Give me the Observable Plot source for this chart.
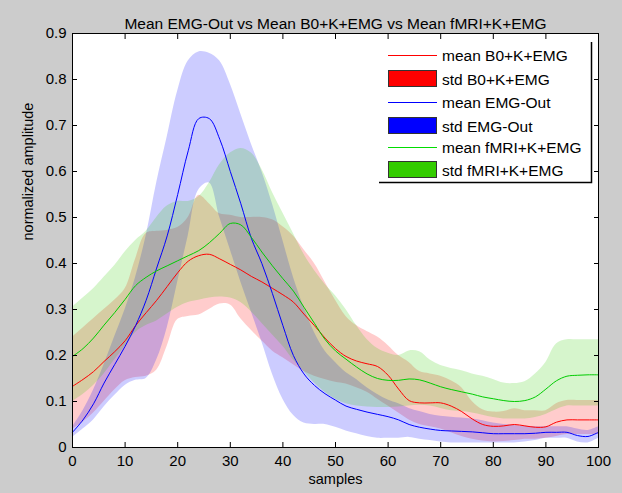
<!DOCTYPE html>
<html>
<head>
<meta charset="utf-8">
<script src="https://cdn.jsdelivr.net/npm/d3@7"></script>
<script src="https://cdn.jsdelivr.net/npm/@observablehq/plot@0.6"></script>
<style>
  html, body { margin: 0; padding: 0; background: #cccccc; }
  #wrap { position: relative; width: 622px; height: 493px; font-family: "Liberation Sans", Arial, sans-serif; }
</style>
</head>
<body>
<div id="wrap"></div>
<script>
// ---- data ----
const samples = [0,2,4,6,8,10,12,14,16,18,20,22,24,26,28,30,32,34,36,38,40,42,44,46,48,50,52,54,56,58,60,62,64,66,68,70,72,74,76,78,80,82,84,86,88,90,92,94,96,98,100];

const meanB0 = [0.133,0.148,0.165,0.187,0.208,0.232,0.265,0.293,0.32,0.35,0.38,0.405,0.417,0.42,0.41,0.398,0.386,0.372,0.36,0.346,0.332,0.316,0.29,0.265,0.238,0.215,0.198,0.188,0.182,0.176,0.157,0.127,0.102,0.097,0.097,0.097,0.09,0.078,0.062,0.05,0.046,0.047,0.05,0.047,0.044,0.045,0.055,0.06,0.06,0.06,0.06];
const upB0   = [0.24,0.26,0.28,0.30,0.32,0.345,0.41,0.465,0.47,0.472,0.478,0.50,0.548,0.53,0.508,0.505,0.50,0.50,0.50,0.495,0.48,0.46,0.43,0.40,0.36,0.32,0.285,0.265,0.252,0.24,0.222,0.20,0.185,0.165,0.16,0.155,0.145,0.13,0.10,0.082,0.077,0.078,0.084,0.08,0.08,0.08,0.095,0.102,0.102,0.102,0.102];
const loB0   = [0.04,0.055,0.075,0.10,0.125,0.145,0.152,0.155,0.168,0.22,0.278,0.285,0.288,0.30,0.312,0.31,0.28,0.255,0.232,0.21,0.195,0.18,0.165,0.155,0.148,0.142,0.138,0.13,0.12,0.105,0.09,0.075,0.06,0.05,0.045,0.04,0.032,0.024,0.018,0.014,0.012,0.013,0.015,0.018,0.018,0.02,0.024,0.028,0.028,0.028,0.028];

const meanEMG = [0.033,0.06,0.095,0.14,0.18,0.22,0.265,0.32,0.39,0.46,0.55,0.645,0.715,0.715,0.67,0.60,0.53,0.455,0.40,0.335,0.265,0.20,0.16,0.135,0.117,0.103,0.09,0.083,0.077,0.072,0.067,0.06,0.05,0.044,0.04,0.037,0.036,0.035,0.034,0.032,0.03,0.03,0.03,0.03,0.031,0.033,0.033,0.033,0.026,0.024,0.033];
const upEMG   = [0.045,0.08,0.125,0.18,0.24,0.30,0.37,0.46,0.575,0.675,0.775,0.84,0.86,0.857,0.84,0.79,0.725,0.66,0.60,0.53,0.45,0.37,0.305,0.25,0.21,0.185,0.163,0.148,0.13,0.115,0.103,0.095,0.085,0.078,0.072,0.068,0.066,0.064,0.062,0.058,0.053,0.05,0.048,0.046,0.045,0.045,0.045,0.045,0.04,0.037,0.045];
const loEMG   = [0.022,0.04,0.06,0.088,0.113,0.135,0.146,0.15,0.19,0.26,0.36,0.46,0.56,0.575,0.50,0.43,0.36,0.295,0.23,0.16,0.105,0.07,0.053,0.05,0.05,0.044,0.036,0.03,0.024,0.02,0.02,0.02,0.022,0.018,0.015,0.012,0.01,0.01,0.01,0.01,0.01,0.01,0.01,0.012,0.015,0.02,0.02,0.02,0.012,0.01,0.02];

const meanFMRI = [0.198,0.215,0.238,0.266,0.293,0.322,0.352,0.37,0.384,0.395,0.406,0.417,0.428,0.445,0.466,0.487,0.484,0.457,0.425,0.395,0.367,0.34,0.305,0.27,0.235,0.21,0.192,0.175,0.16,0.15,0.146,0.146,0.149,0.147,0.14,0.132,0.126,0.121,0.116,0.11,0.106,0.102,0.10,0.102,0.11,0.127,0.145,0.155,0.157,0.158,0.158];
const upFMRI   = [0.305,0.325,0.345,0.37,0.395,0.425,0.45,0.47,0.50,0.525,0.535,0.535,0.545,0.575,0.615,0.64,0.65,0.64,0.605,0.555,0.51,0.465,0.42,0.385,0.355,0.33,0.30,0.265,0.235,0.215,0.205,0.20,0.21,0.208,0.19,0.178,0.172,0.167,0.16,0.155,0.148,0.14,0.139,0.143,0.16,0.185,0.225,0.234,0.234,0.234,0.234];
const loFMRI   = [0.10,0.115,0.135,0.16,0.19,0.22,0.25,0.265,0.275,0.29,0.305,0.315,0.32,0.325,0.327,0.325,0.315,0.295,0.27,0.245,0.22,0.19,0.165,0.14,0.12,0.105,0.095,0.09,0.088,0.087,0.087,0.088,0.09,0.092,0.09,0.085,0.08,0.078,0.075,0.07,0.065,0.062,0.062,0.062,0.065,0.072,0.082,0.09,0.09,0.09,0.09];

const xTicks = [0,10,20,30,40,50,60,70,80,90,100];
const yTicks = [0,0.1,0.2,0.3,0.4,0.5,0.6,0.7,0.8,0.9];
const yTickLabels = ["0","0.1","0.2","0.3","0.4","0.5","0.6","0.7","0.8","0.9"];

const titleText = "Mean EMG-Out vs Mean B0+K+EMG vs Mean fMRI+K+EMG";
const xLabel = "samples";
const yLabel = "normalized amplitude";

const legendNames  = ["mean B0+K+EMG", "std B0+K+EMG", "mean EMG-Out", "std EMG-Out", "mean fMRI+K+EMG", "std fMRI+K+EMG"];
const legendKinds  = ["line", "patch", "line", "patch", "line", "patch"];
const legendColors = ["#ff0000", "#ff0000", "#0000ff", "#0000ff", "#00dd00", "#33cc00"];

// ---- build ----
const series = [
  {mean: meanB0,   lo: loB0,   hi: upB0,   line: "#ff0000", fill: "#ff0000"},
  {mean: meanEMG,  lo: loEMG,  hi: upEMG,  line: "#0000ff", fill: "#0000ff"},
  {mean: meanFMRI, lo: loFMRI, hi: upFMRI, line: "#00cc00", fill: "#33cc00"}
];
const rows = s => samples.map((x, i) => ({x, mean: s.mean[i], lo: s.lo[i], hi: s.hi[i]}));

const font = "'Liberation Sans', Arial, sans-serif";

const chart = Plot.plot({
  width: 622,
  height: 493,
  marginLeft: 72,
  marginRight: 24,
  marginTop: 33,
  marginBottom: 46,
  style: {background: "#cccccc", fontFamily: font, fontSize: "15px", color: "#000"},
  x: {domain: [0, 100]},
  y: {domain: [0, 0.9]},
  marks: [
    Plot.frame({fill: "#ffffff", stroke: null}),
    ...series.map(s => Plot.areaY(rows(s), {x: "x", y1: "lo", y2: "hi", fill: s.fill, fillOpacity: 0.2, curve: "catmull-rom"})),
    ...series.map(s => Plot.lineY(rows(s), {x: "x", y: "mean", stroke: s.line, strokeWidth: 1, curve: "catmull-rom"})),
    Plot.frame({stroke: "#000", strokeWidth: 1}),
    Plot.axisX({ticks: xTicks, tickSize: -5, tickPadding: 13, label: null, fontSize: 15}),
    Plot.axisX({anchor: "top", ticks: xTicks, tickSize: -5, tickFormat: () => "", label: null}),
    Plot.axisY({ticks: yTicks, tickSize: -5, tickPadding: 11, label: null, fontSize: 15,
                tickFormat: d => yTickLabels[yTicks.indexOf(d)]}),
    Plot.axisY({anchor: "right", ticks: yTicks, tickSize: -5, tickFormat: () => "", label: null}),
    Plot.text([titleText], {frameAnchor: "top", dy: -16, fontSize: 15.5}),
    Plot.text([xLabel], {frameAnchor: "bottom", dy: 36, fontSize: 14.5}),
    Plot.text([yLabel], {frameAnchor: "left", dx: -44, rotate: -90, fontSize: 14.5})
  ]
});

document.getElementById("wrap").appendChild(chart);

// legend drawn into the same SVG
const svg = d3.select(chart);
const lg = svg.append("g").attr("transform", "translate(379,42)").attr("text-anchor", "start");
lg.append("rect").attr("x", 0).attr("y", 0).attr("width", 212).attr("height", 140).attr("fill", "#ffffff");
lg.append("path").attr("d", "M0,140.5H212.5V0").attr("fill", "none").attr("stroke", "#000").attr("stroke-width", 1.5);
const rowCenters = [13, 37, 60, 84, 105, 128];
legendNames.forEach((name, i) => {
  const cy = rowCenters[i];
  if (legendKinds[i] === "line") {
    lg.append("line").attr("x1", 9).attr("x2", 58).attr("y1", cy + 0.5).attr("y2", cy + 0.5)
      .attr("stroke", legendColors[i]).attr("stroke-width", 1);
  } else {
    lg.append("rect").attr("x", 9.5).attr("y", cy - 8.5).attr("width", 48).attr("height", 16)
      .attr("fill", legendColors[i]).attr("stroke", "#333").attr("stroke-width", 1);
  }
  lg.append("text").attr("x", 63).attr("y", cy).attr("dy", "0.36em").attr("text-anchor", "start")
    .attr("font-size", 15.5).attr("font-family", font).attr("fill", "#000").text(name);
});
</script>
</body>
</html>
